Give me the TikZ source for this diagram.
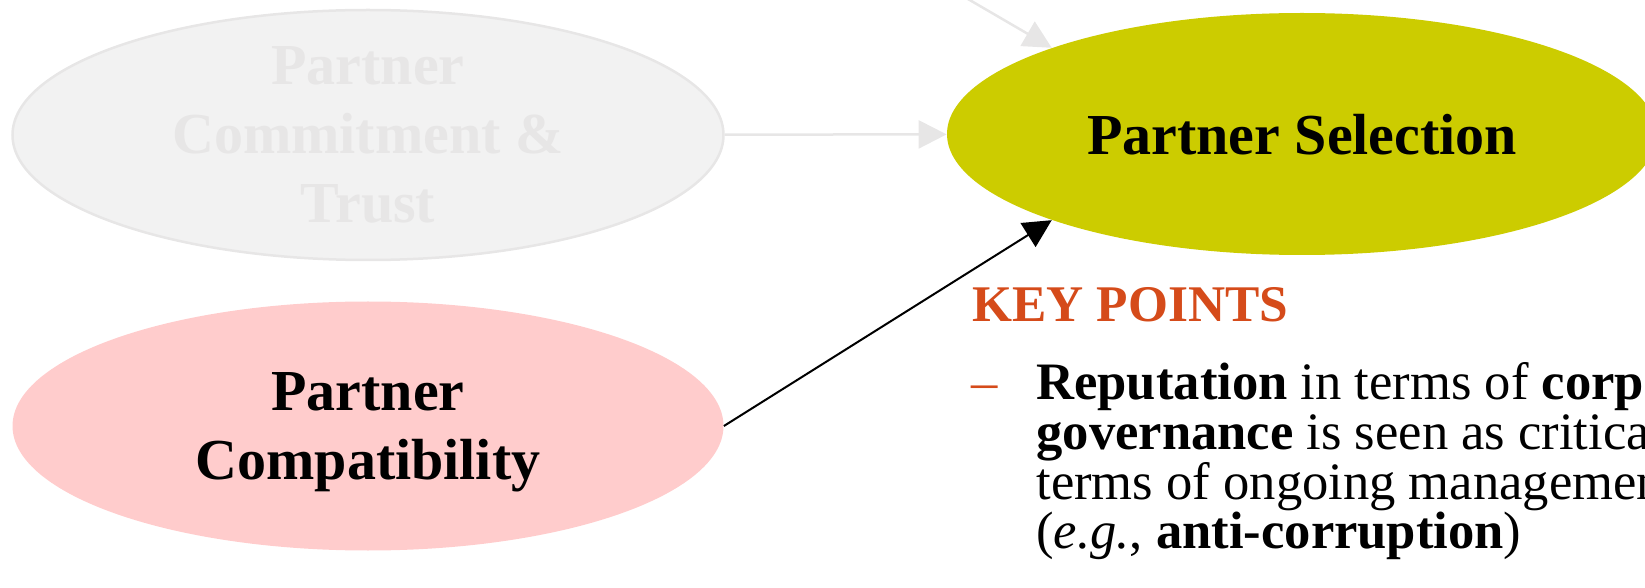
\documentclass[tikz,border=0pt]{standalone}
\usepackage{fontspec}
\setmainfont{Liberation Serif}
\usetikzlibrary{shapes.geometric,arrows.meta}
\definecolor{fadefill}{HTML}{F2F2F2}
\definecolor{fadegray}{HTML}{E7E6E6}
\definecolor{pinkfill}{HTML}{FFCCCC}
\definecolor{selgreen}{HTML}{CCCC00}
\definecolor{keyorange}{HTML}{D54B1A}
\begin{document}
\begin{tikzpicture}[x=0.5pt,y=-0.5pt,
  bubble/.style={ellipse, inner xsep=0pt, inner ysep=-15pt, text depth=0pt, minimum width=355.5pt, minimum height=125pt, align=center, font=\bfseries\fontsize{29}{34.5}\selectfont},
  faded/.style={-{Triangle[length=14pt,width=14pt]}, draw=fadegray, line width=1.25pt},
  link/.style={-{Triangle[length=14pt,width=14pt]}, draw=black, line width=1pt},
  body/.style={anchor=base west, inner sep=0pt, font=\fontsize{26.3}{27}\selectfont}]
\useasboundingbox (0,0) rectangle (1645,588);
\clip (0,0) rectangle (1645,588);
\node [bubble, fill=fadefill, draw=fadegray, line width=1.25pt, text=fadegray] (trust) at (368,135) {Partner\\Commitment \&\\Trust};
\node [bubble, fill=pinkfill, minimum height=124.5pt] (compat) at (368,426) {Partner\\Compatibility};
\node [bubble, fill=selgreen, minimum width=355pt, minimum height=121pt] (select) at (1302,134) {Partner Selection};
\coordinate (above) at (901,-40);
\draw [faded] (above) -- (select.161);
\draw [faded] (trust) -- (select);
\draw [link] (compat.east) -- (select.199);
\node [anchor=base west, inner sep=0pt, text=keyorange, font=\bfseries\fontsize{25.7}{30}\selectfont] (key) at (972,322) {KEY POINTS};
\node [body, text=keyorange] (dash) at (971,400) {--};
\node [body] (l1) at (1036,400) {\textbf{Reputation} in terms of \textbf{corporate}};
\node [body] (l2) at (1036,449.5) {\textbf{governance} is seen as critical};
\node [body] (l3) at (1036,499) {terms of ongoing management};
\node [body] (l4) at (1036,548.5) {(\textit{e.g.}, \textbf{anti-corruption})};
\end{tikzpicture}
\end{document}
